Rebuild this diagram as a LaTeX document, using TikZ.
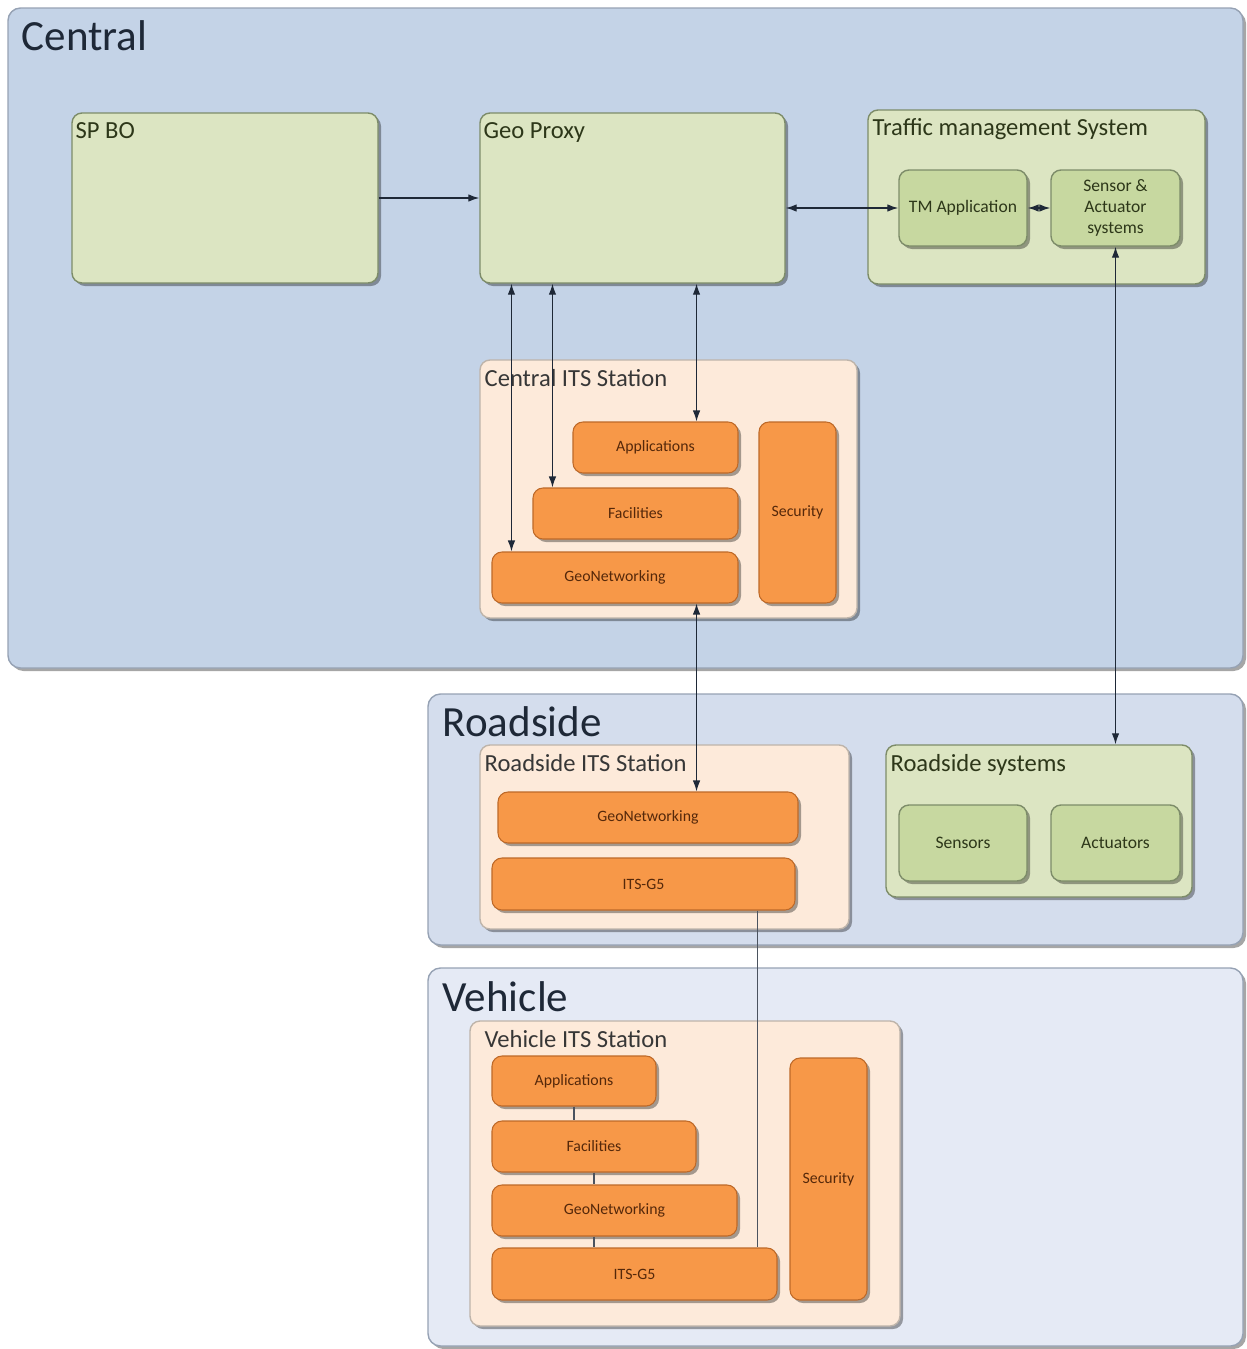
\documentclass[tikz,border=0pt]{standalone}
\usepackage{fontspec}
\setmainfont{Carlito}
\usetikzlibrary{fit,shadows,arrows.meta}

\definecolor{centralbg}{RGB}{196,211,231}
\definecolor{roadsidebg}{RGB}{212,221,237}
\definecolor{vehiclebg}{RGB}{229,234,245}
\definecolor{zoneline}{RGB}{150,162,180}
\definecolor{palegreen}{RGB}{220,229,194}
\definecolor{midgreen}{RGB}{199,216,160}
\definecolor{greenline}{RGB}{125,140,105}
\definecolor{peach}{RGB}{253,234,218}
\definecolor{peachline}{RGB}{190,180,170}
\definecolor{orangebox}{RGB}{247,152,72}
\definecolor{orangeline}{RGB}{190,105,40}
\definecolor{ink}{RGB}{30,40,55}
\definecolor{olive}{RGB}{45,55,25}
\definecolor{greyink}{RGB}{55,55,55}
\definecolor{brownink}{RGB}{85,40,10}

\begin{document}
\begin{tikzpicture}[x=0.02cm, y=-0.02cm,
    shade/.style={drop shadow={shadow xshift=0.06cm, shadow yshift=-0.06cm, opacity=0.35, fill=black}},
    zone/.style={draw=zoneline, line width=0.8pt, rounded corners=0.25cm, inner sep=0pt, shade},
    zone_label/.style={anchor=north west, inner sep=0pt, text=ink, font=\fontsize{24.5}{29}\selectfont},
    greenbox/.style={draw=greenline, fill=palegreen, line width=0.8pt, rounded corners=0.2cm, inner sep=0pt, shade},
    innergreen/.style={greenbox, fill=midgreen},
    green_text/.style={align=center, text=olive, font=\fontsize{10}{12}\selectfont},
    station/.style={draw=peachline, fill=peach, line width=0.8pt, rounded corners=0.2cm, inner sep=0pt, shade},
    layer/.style={draw=orangeline, fill=orangebox, line width=0.6pt, rounded corners=0.2cm, inner sep=0pt, shade},
    layer_text/.style={text=brownink, font=\fontsize{9}{10}\selectfont},
    box_label/.style={anchor=north west, inner sep=0pt, text=olive, font=\fontsize{14}{16}\selectfont},
    dblarrow/.style={{Latex[length=2.2mm,width=1.5mm]}-{Latex[length=2.2mm,width=1.5mm]}, line width=0.7pt, draw=ink},
    onearrow/.style={-{Latex[length=2.2mm,width=1.5mm]}, line width=0.7pt, draw=ink},
    link/.style={line width=0.7pt, draw=ink!80}
]
    \useasboundingbox (0,0) rectangle (1247,1349);
    % Zonen
    \node[zone, fill=centralbg, fit={(8,8) (1243,668)},
        label={[zone_label, xshift=0.28cm, yshift=-0.26cm]north west:Central}] (central) {};
    \node[zone, fill=roadsidebg, fit={(428,694) (1243,945)},
        label={[zone_label, xshift=0.3cm, yshift=-0.26cm]north west:Roadside}] (roadside) {};
    \node[zone, fill=vehiclebg, fit={(428,968) (1243,1346)},
        label={[zone_label, xshift=0.3cm, yshift=-0.28cm]north west:Vehicle}] (vehicle) {};

    % Central
    \node[greenbox, fit={(72,113) (378,283)},
        label={[box_label, xshift=0.08cm, yshift=-0.2cm]north west:SP BO}] (spbo) {};
    \node[greenbox, fit={(480,113) (785,283)},
        label={[box_label, xshift=0.08cm, yshift=-0.2cm]north west:Geo Proxy}] (geoproxy) {};
    \node[greenbox, fit={(868,110) (1205,284)},
        label={[box_label, xshift=0.1cm, yshift=-0.18cm]north west:Traffic management System}] (tms) {};
    \node[innergreen, fit={(899,170) (1027,246)}, label={[green_text]center:TM Application}] (tmapp) {};
    \node[innergreen, fit={(1051,170) (1180,246)}, label={[green_text]center:Sensor \&\\Actuator\\systems}] (sensact) {};

    \node[station, fit={(480,360) (857,618)},
        label={[box_label, text=greyink, xshift=0.1cm, yshift=-0.2cm]north west:Central ITS Station}] (cits) {};
    \node[layer, fit={(573,422) (738,473)}, label={[layer_text]center:Applications}] (capp) {};
    \node[layer, fit={(533,488) (738,539)}, label={[layer_text]center:Facilities}] (cfac) {};
    \node[layer, fit={(492,552) (738,603)}, label={[layer_text]center:GeoNetworking}] (cgeo) {};
    \node[layer, fit={(759,422) (836,603)}, label={[layer_text]center:Security}] (csec) {};

    % Roadside
    \node[station, fit={(480,745) (849,929)},
        label={[box_label, text=greyink, xshift=0.1cm, yshift=-0.2cm]north west:Roadside ITS Station}] (rits) {};
    \node[layer, fit={(498,792) (798,843)}, label={[layer_text]center:GeoNetworking}] (rgeo) {};
    \node[layer, fit={(492,858) (795,910)}, label={[layer_text]center:ITS-G5}] (rg5) {};
    \node[greenbox, fit={(886,745) (1192,897)},
        label={[box_label, xshift=0.1cm, yshift=-0.2cm]north west:Roadside systems}] (rsys) {};
    \node[innergreen, fit={(899,805) (1027,881)}, label={[green_text]center:Sensors}] (sensors) {};
    \node[innergreen, fit={(1051,805) (1180,881)}, label={[green_text]center:Actuators}] (actuators) {};

    % Vehicle
    \node[station, fit={(470,1021) (900,1326)},
        label={[box_label, text=greyink, xshift=0.3cm, yshift=-0.2cm]north west:Vehicle ITS Station}] (vits) {};
    \node[layer, fit={(492,1056) (656,1106)}, label={[layer_text]center:Applications}] (vapp) {};
    \node[layer, fit={(492,1121) (696,1172)}, label={[layer_text]center:Facilities}] (vfac) {};
    \node[layer, fit={(492,1185) (737,1236)}, label={[layer_text]center:GeoNetworking}] (vgeo) {};
    \node[layer, fit={(492,1248) (777,1300)}, label={[layer_text]center:ITS-G5}] (vg5) {};
    \node[layer, fit={(790,1058) (867,1300)}, label={[layer_text]center:Security}] (vsec) {};

    % Verbindungen
    \draw[onearrow] (spbo) -- (geoproxy);
    \draw[dblarrow] (geoproxy.east |- tmapp) -- (tmapp);
    \draw[dblarrow] (tmapp) -- (sensact);
    \draw[dblarrow] (sensact.south) -- (sensact.south |- rsys.north);
    \draw[dblarrow] ([xshift=0.4cm]cgeo.north west |- geoproxy.south) -- ([xshift=0.4cm]cgeo.north west);
    \draw[dblarrow] ([xshift=0.4cm]cfac.north west |- geoproxy.south) -- ([xshift=0.4cm]cfac.north west);
    \draw[dblarrow] ([xshift=-0.84cm]capp.north east |- geoproxy.south) -- ([xshift=-0.84cm]capp.north east);
    \draw[dblarrow] ([xshift=-0.84cm]cgeo.south east) -- ([xshift=-0.84cm]cgeo.south east |- rgeo.north);
    \draw[link] ([xshift=-0.76cm]rg5.south east) -- ([xshift=-0.76cm]rg5.south east |- vg5.north);
    \draw[link] (vapp.south) -- (vapp.south |- vfac.north);
    \draw[link] (vfac.south) -- (vfac.south |- vgeo.north);
    \draw[link] (vfac.south |- vgeo.south) -- (vfac.south |- vg5.north);
\end{tikzpicture}
\end{document}
